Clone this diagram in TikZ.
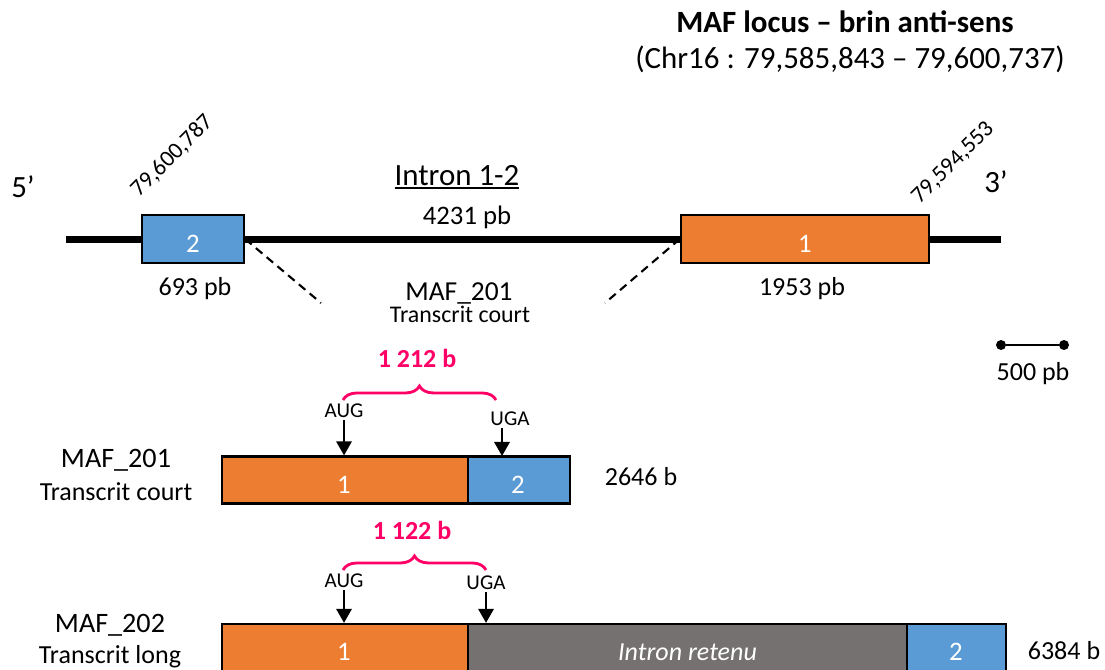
\documentclass[tikz,border=0pt]{standalone}
\usepackage{fontspec}
\setmainfont{Carlito}
\usetikzlibrary{arrows.meta,decorations.pathreplacing}
\definecolor{exorange}{HTML}{ED7D31}
\definecolor{exblue}{HTML}{5B9BD5}
\definecolor{introngrey}{HTML}{767171}
\definecolor{cdspink}{HTML}{FF0066}
\newcommand{\ulintron}[1]{\vtop{\hbox{#1}\kern1.6pt\hrule height 1.3pt}}

\begin{document}
\begin{tikzpicture}[x=0.025cm,y=-0.025cm,
  txt/.style={anchor=base,inner sep=2pt,font=\fontsize{18.5}{22}\selectfont},
  bigtxt/.style={txt,font=\fontsize{22}{26}\selectfont},
  smalltxt/.style={txt,font=\fontsize{15}{18}\selectfont},
  num/.style={txt,text=white,font=\fontsize{19}{23}\selectfont},
  exon/.style={draw,line width=1.6pt,inner sep=0pt,minimum height=1.2cm},
  cds/.style={txt,text=cdspink,font=\fontsize{18.5}{22}\selectfont\bfseries},
  codon/.style={-{Triangle[width=11pt,length=10pt]},line width=1.4pt},
  brc/.style={decorate,decoration={brace,amplitude=10pt},line width=2pt,draw=cdspink},
  splice/.style={dash pattern=on 6pt off 4pt,line width=1.5pt},
  dot/.style={circle,fill,inner sep=0pt,minimum size=0.25cm}]

\path[use as bounding box] (0,0) rectangle (1105,670);
\clip (0,0) rectangle (1105,670);

\node[bigtxt,font=\fontsize{22}{26}\selectfont\bfseries] (title) at (845,33) {MAF locus – brin anti-sens};
\node[bigtxt] (chr) at (850,69) {(Chr16 : 79,585,843 – 79,600,737)};

\coordinate (l5) at (66,239.5);
\coordinate (l3) at (1001,239.5);
\draw[line width=4.5pt] (l5) -- (l3);
\node[exon,fill=exblue,minimum width=2.55cm] (ex2) at (193,239) {};
\node[exon,fill=exorange,minimum width=6.2cm] (ex1) at (805,239) {};
\node[num] (n2) at (193,252) {2};
\node[num] (n1) at (805,252) {1};

\node[bigtxt] (p5) at (23,197) {5’};
\node[bigtxt] (p3) at (996,192) {3’};
\node[txt,anchor=center,rotate=45,font=\fontsize{16.5}{20}\selectfont] (pos2) at (172,156) {79,600,787};
\node[txt,anchor=center,rotate=45,font=\fontsize{16.5}{20}\selectfont] (pos1) at (953,163) {79,594,553};
\node[bigtxt] (intr) at (457,185) {\ulintron{Intron 1-2}};
\node[txt,font=\fontsize{19}{23}\selectfont] (intl) at (467,224) {4231 pb};
\node[txt] (s2) at (195,295) {693 pb};
\node[txt] (s1) at (802,295) {1953 pb};

\coordinate (d2) at (321,303);
\coordinate (d1) at (605,303);
\draw[splice] (ex2.east) -- (d2);
\draw[splice] (ex1.west) -- (d1);
\node[txt,font=\fontsize{19.5}{23}\selectfont] (m201top) at (459,300) {MAF\_201};
\node[txt,font=\fontsize{17}{20}\selectfont] (tc201top) at (460,322) {Transcrit court};

\node[dot] (sb1) at (1001,345) {};
\node[dot] (sb2) at (1064,345) {};
\draw[line width=1.8pt] (sb1) -- (sb2);
\node[txt] (sbl) at (1033,380) {500 pb};

\node[cds] (len1) at (417,367) {1 212 b};
\coordinate (b1l) at (343,400);
\coordinate (b1r) at (496,400);
\draw[brc] (b1l) -- (b1r);
\node[smalltxt] (aug1) at (344,417) {AUG};
\node[smalltxt] (uga1) at (510,425) {UGA};
\node[exon,fill=exorange,minimum width=6.15cm,minimum height=1.175cm] (t1a) at (345,480) {};
\node[exon,fill=exblue,minimum width=2.55cm,minimum height=1.175cm] (t1b) at (519,480) {};
\node[num] (t1n1) at (344,493) {1};
\node[num] (t1n2) at (518,493) {2};
\coordinate (stop1) at (502,456);
\draw[codon] (aug1.south) -- (aug1.south |- t1a.north);
\draw[codon] (uga1.south -| stop1) -- (stop1);
\node[txt,font=\fontsize{20}{24}\selectfont] (m201) at (116,467) {MAF\_201};
\node[txt] (tc201) at (116,500) {Transcrit court};
\node[txt] (len201) at (641,485) {2646 b};

\node[cds] (len2) at (412,539) {1 122 b};
\coordinate (b2l) at (343,570);
\coordinate (b2r) at (486,570);
\draw[brc] (b2l) -- (b2r);
\node[smalltxt] (aug2) at (344,587) {AUG};
\node[smalltxt] (uga2) at (486,589) {UGA};
\node[exon,fill=exorange,minimum width=6.15cm] (t2a) at (345,648) {};
\node[exon,fill=introngrey,minimum width=10.975cm] (t2b) at (687.5,648) {};
\node[exon,fill=exblue,minimum width=2.475cm] (t2c) at (956.5,648) {};
\node[num] (t2n1) at (344,660) {1};
\node[num,font=\fontsize{18.5}{22}\selectfont\itshape] (t2ir) at (687.5,660) {Intron retenu};
\node[num] (t2n2) at (956,660) {2};
\draw[codon] (aug2.south) -- (aug2.south |- t2a.north);
\draw[codon] (uga2.south) -- (uga2.south |- t2b.north);
\node[txt,font=\fontsize{20}{24}\selectfont] (m202) at (110,632) {MAF\_202};
\node[txt] (tl202) at (110,663) {Transcrit long};
\node[txt] (len202) at (1064,659) {6384 b};
\end{tikzpicture}
\end{document}
